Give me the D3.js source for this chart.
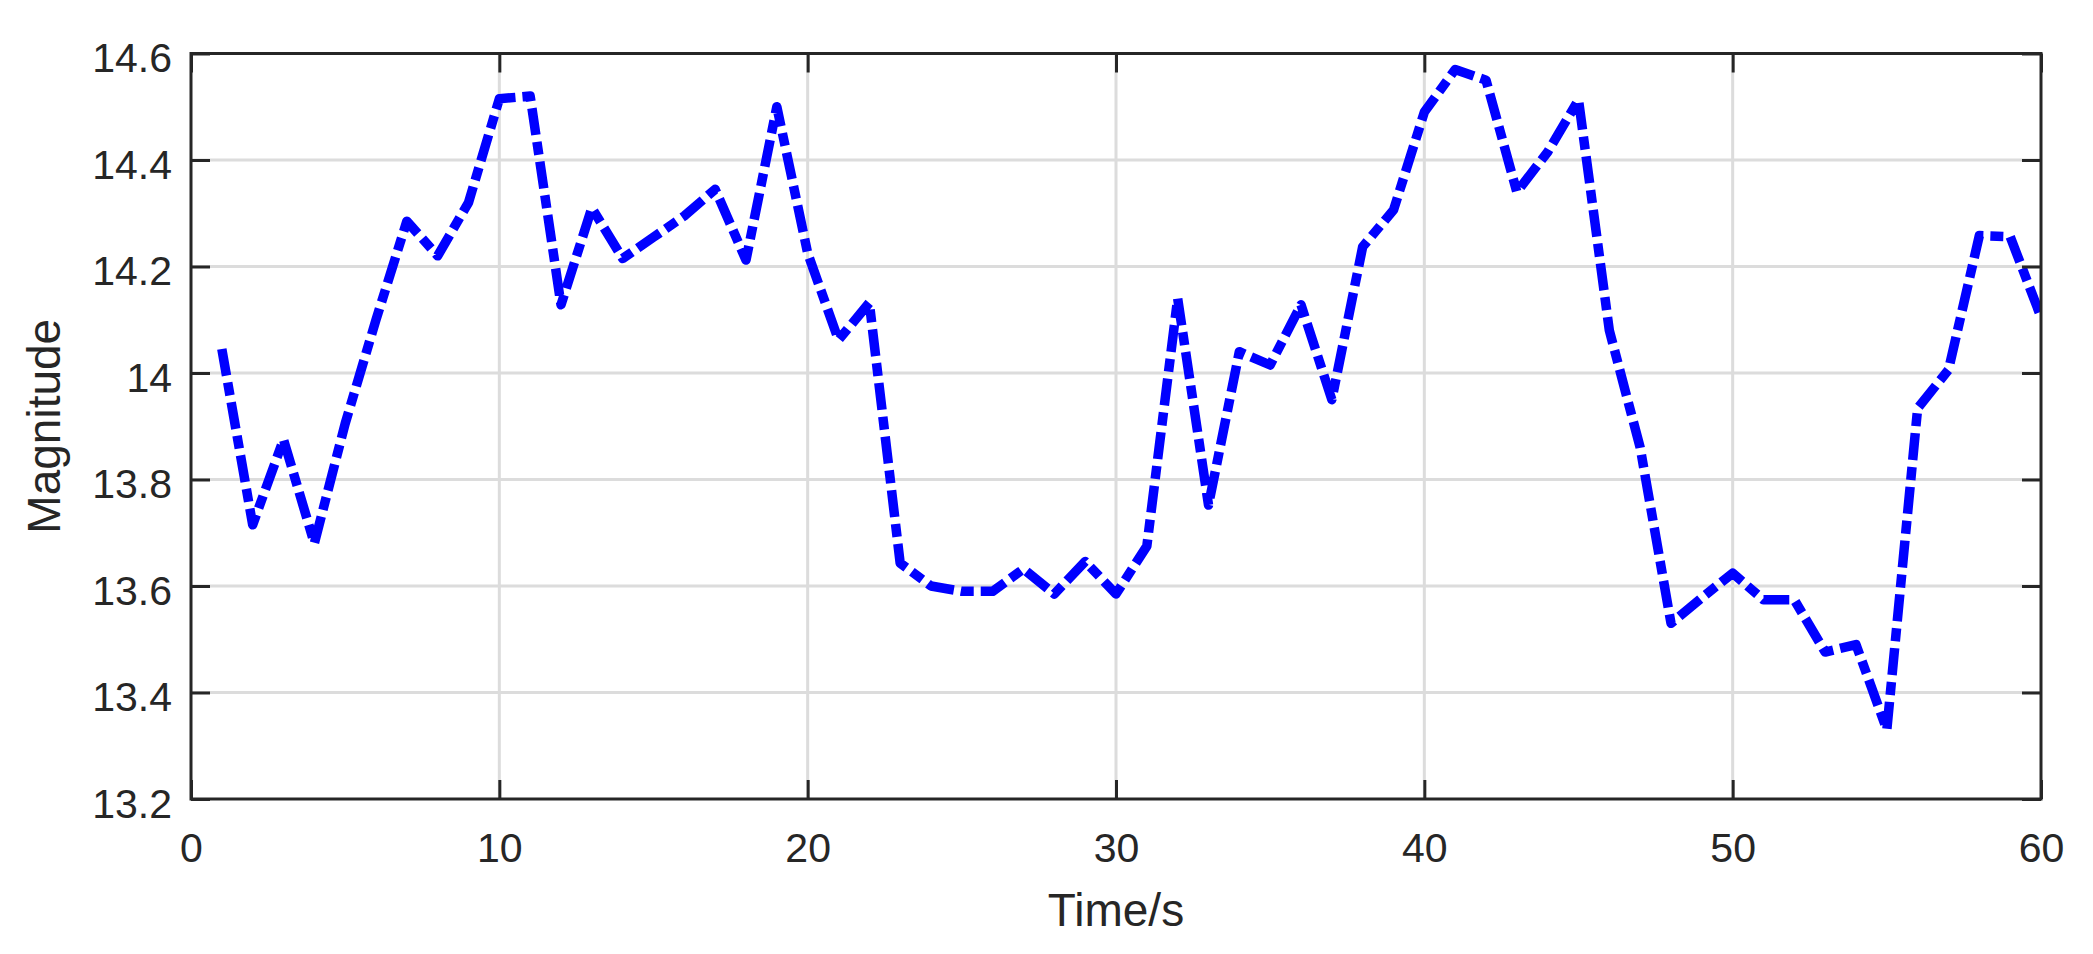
<!DOCTYPE html>
<html>
<head>
<meta charset="utf-8">
<script src="https://cdn.jsdelivr.net/npm/d3@7"></script>
<style>
  html, body { margin: 0; padding: 0; background: #fff; }
  svg { display: block; }
  text { font-family: "Liberation Sans", Arial, sans-serif; fill: #262626; }
</style>
</head>
<body>
<div id="chart"></div>
<script>
// time in seconds
const times = [1, 2, 3, 4, 5, 6, 7, 8, 9, 10,
  11, 12, 13, 14, 15, 16, 17, 18, 19, 20,
  21, 22, 23, 24, 25, 26, 27, 28, 29, 30,
  31, 32, 33, 34, 35, 36, 37, 38, 39, 40,
  41, 42, 43, 44, 45, 46, 47, 48, 49, 50,
  51, 52, 53, 54, 55, 56, 57, 58, 59, 60]

// magnitude
const magnitude = [14.045, 13.715, 13.875, 13.68, 13.905, 14.10, 14.285, 14.22, 14.32, 14.515,
  14.52, 14.128, 14.31, 14.215, 14.255, 14.295, 14.345, 14.212, 14.50, 14.225,
  14.062, 14.132, 13.643, 13.60, 13.59, 13.59, 13.632, 13.585, 13.646, 13.585,
  13.675, 14.14, 13.752, 14.04, 14.015, 14.128, 13.95, 14.237, 14.306, 14.49,
  14.57, 14.55, 14.34, 14.415, 14.513, 14.08, 13.86, 13.53, 13.578, 13.624,
  13.574, 13.574, 13.476, 13.49, 13.33, 13.934, 14.006, 14.258, 14.256, 14.105]

const xTicks = [0, 10, 20, 30, 40, 50, 60]
const yTicks = [13.2, 13.4, 13.6, 13.8, 14, 14.2, 14.4, 14.6]
const yTickLabels = ["13.2", "13.4", "13.6", "13.8", "14", "14.2", "14.4", "14.6"]

const width = 2093
const height = 954
const margin = { top: 53.5, right: 52, bottom: 155, left: 191 }
const tickLen = 19
const axisColor = "#262626"

const svg = d3.select("#chart")
  .append("svg")
  .attr("width", width)
  .attr("height", height)

const x = d3.scaleLinear()
  .domain([0, 60])
  .range([margin.left, width - margin.right])

const y = d3.scaleLinear()
  .domain([13.2, 14.6])
  .range([height - margin.bottom, margin.top])

// grid
svg.append("g")
  .attr("stroke", "#dcdcdc")
  .attr("stroke-width", 3)
  .selectAll("line")
  .data(xTicks.slice(1, -1))
  .join("line")
    .attr("x1", d => x(d)).attr("x2", d => x(d))
    .attr("y1", y(14.6)).attr("y2", y(13.2))

svg.append("g")
  .attr("stroke", "#dcdcdc")
  .attr("stroke-width", 3)
  .selectAll("line")
  .data(yTicks.slice(1, -1))
  .join("line")
    .attr("x1", x(0)).attr("x2", x(60))
    .attr("y1", d => y(d)).attr("y2", d => y(d))

// data line
svg.append("clipPath")
  .attr("id", "plot-clip")
  .append("rect")
  .attr("x", x(0)).attr("y", y(14.6))
  .attr("width", x(60) - x(0)).attr("height", y(13.2) - y(14.6))

const line = d3.line()
  .x((d, i) => x(times[i]))
  .y(d => y(d))

svg.append("path")
  .datum(magnitude)
  .attr("clip-path", "url(#plot-clip)")
  .attr("fill", "none")
  .attr("stroke", "#0000ff")
  .attr("stroke-width", 9.5)
  .attr("stroke-linejoin", "round")
  .attr("stroke-dasharray", "27,7,13,7")
  .attr("d", line)

// axes, ticks point inwards
function styleAxis(g) {
  g.select(".domain").remove()
  g.selectAll(".tick line").attr("stroke", axisColor).attr("stroke-width", 3)
  g.selectAll(".tick text").attr("font-size", "41px").attr("fill", axisColor)
}

svg.append("g")
  .attr("transform", `translate(0,${y(13.2)})`)
  .call(d3.axisBottom(x).tickValues(xTicks).tickSizeInner(-tickLen).tickSizeOuter(0).tickPadding(34).tickFormat(d3.format("d")))
  .call(styleAxis)

svg.append("g")
  .attr("transform", `translate(${x(0)},0)`)
  .call(d3.axisLeft(y).tickValues(yTicks).tickSizeInner(-tickLen).tickSizeOuter(0).tickPadding(19)
    .tickFormat((d, i) => yTickLabels[i]))
  .call(styleAxis)
  .call(g => g.selectAll(".tick text").attr("dy", "0.44em"))

svg.append("g")
  .attr("transform", `translate(0,${y(14.6)})`)
  .call(d3.axisTop(x).tickValues(xTicks).tickSizeInner(-tickLen).tickSizeOuter(0).tickFormat(""))
  .call(styleAxis)

svg.append("g")
  .attr("transform", `translate(${x(60)},0)`)
  .call(d3.axisRight(y).tickValues(yTicks).tickSizeInner(-tickLen).tickSizeOuter(0).tickFormat(""))
  .call(styleAxis)

// box
svg.append("rect")
  .attr("x", x(0)).attr("y", y(14.6))
  .attr("width", x(60) - x(0)).attr("height", y(13.2) - y(14.6))
  .attr("fill", "none")
  .attr("stroke", axisColor)
  .attr("stroke-width", 3)

// axis titles
svg.append("text")
  .attr("x", (x(0) + x(60)) / 2)
  .attr("y", 926)
  .attr("text-anchor", "middle")
  .attr("font-size", "46px")
  .text("Time/s")

svg.append("text")
  .attr("transform", `translate(60,${(y(13.2) + y(14.6)) / 2}) rotate(-90)`)
  .attr("text-anchor", "middle")
  .attr("font-size", "46px")
  .text("Magnitude")
</script>
</body>
</html>
